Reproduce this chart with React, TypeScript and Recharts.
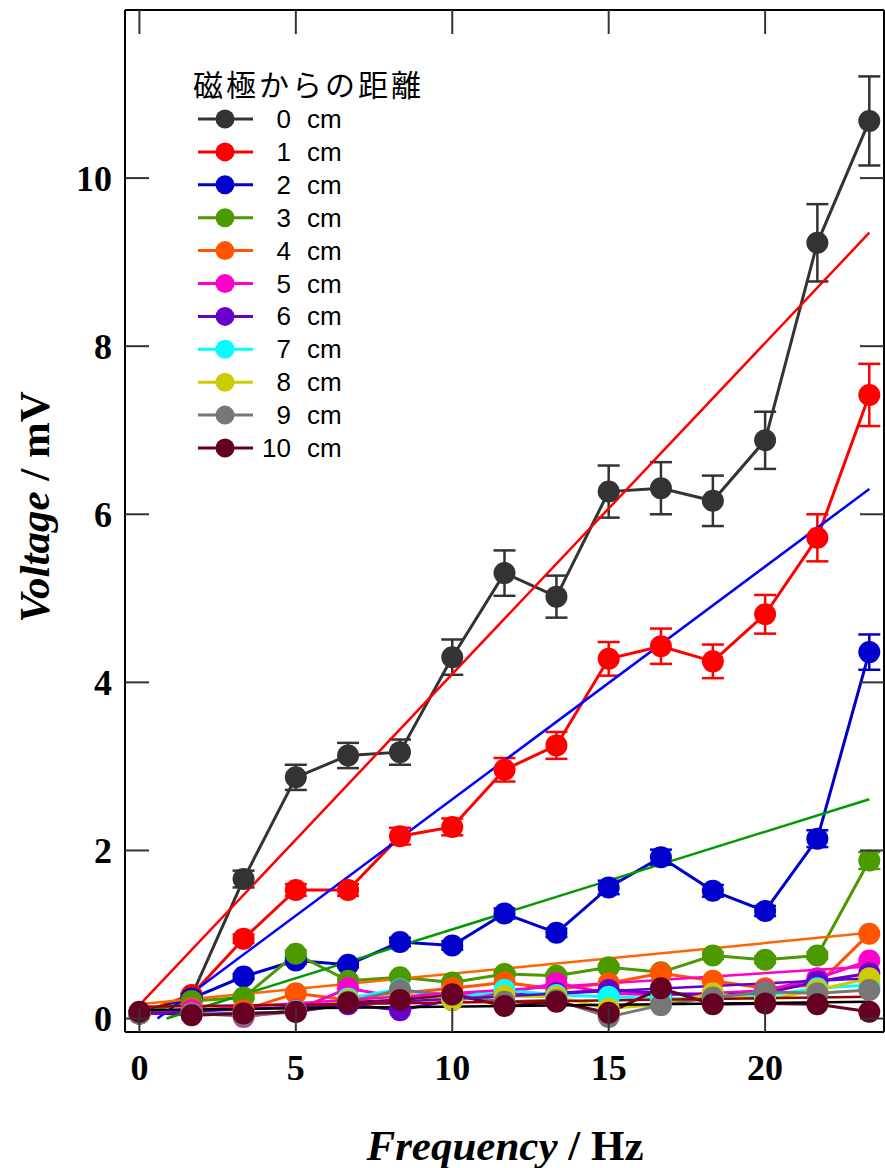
import React from 'react';
import { LineChart, Line, XAxis, YAxis, ErrorBar, Legend, Label } from 'recharts';

// ---- data ----
const freq = [0, 1.67, 3.33, 5, 6.67, 8.33, 10, 11.67, 13.33, 15, 16.67, 18.33, 20, 21.67, 23.33];

const seriesLabels = ['0', '1', '2', '3', '4', '5', '6', '7', '8', '9', '10'];
const seriesColors = ['#333333', '#ff0000', '#0000cc', '#4c9900', '#ff5500', '#ff00cc', '#6600cc', '#00ffff', '#cccc00', '#777777', '#660022'];

const v0cm = [0.06, 0.27, 1.66, 2.87, 3.13, 3.17, 4.30, 5.30, 5.02, 6.27, 6.31, 6.16, 6.88, 9.23, 10.68];
const v1cm = [0.06, 0.28, 0.95, 1.53, 1.53, 2.17, 2.28, 2.96, 3.25, 4.28, 4.43, 4.25, 4.81, 5.72, 7.42];
const v2cm = [0.06, 0.24, 0.50, 0.69, 0.64, 0.91, 0.87, 1.25, 1.02, 1.56, 1.92, 1.52, 1.28, 2.14, 4.36];
const v3cm = [0.06, 0.21, 0.25, 0.77, 0.45, 0.49, 0.43, 0.53, 0.51, 0.61, 0.55, 0.75, 0.70, 0.75, 1.88];
const v4cm = [0.06, 0.12, 0.10, 0.30, 0.22, 0.30, 0.36, 0.43, 0.35, 0.42, 0.54, 0.45, 0.36, 0.40, 1.01];
const v5cm = [0.06, 0.10, 0.02, 0.10, 0.36, 0.25, 0.28, 0.30, 0.42, 0.30, 0.28, 0.30, 0.33, 0.48, 0.69];
const v6cm = [0.06, 0.06, 0.06, 0.08, 0.17, 0.10, 0.22, 0.28, 0.30, 0.34, 0.30, 0.28, 0.30, 0.44, 0.54];
const v7cm = [0.06, 0.06, 0.05, 0.09, 0.24, 0.35, 0.24, 0.34, 0.28, 0.26, 0.24, 0.24, 0.27, 0.36, 0.40];
const v8cm = [0.06, 0.06, 0.04, 0.08, 0.22, 0.28, 0.22, 0.27, 0.26, 0.12, 0.17, 0.30, 0.22, 0.34, 0.48];
const v9cm = [0.06, 0.06, 0.03, 0.08, 0.20, 0.34, 0.28, 0.20, 0.22, 0.02, 0.16, 0.25, 0.32, 0.30, 0.34];
const v10cm = [0.08, 0.04, 0.06, 0.08, 0.19, 0.22, 0.29, 0.15, 0.20, 0.07, 0.36, 0.17, 0.18, 0.17, 0.08];

const err0cm = [0.02, 0.03, 0.10, 0.15, 0.15, 0.15, 0.21, 0.27, 0.25, 0.31, 0.31, 0.30, 0.34, 0.46, 0.53];
const err1cm = [0.01, 0.02, 0.05, 0.07, 0.07, 0.10, 0.10, 0.14, 0.16, 0.20, 0.21, 0.20, 0.23, 0.28, 0.37];
const err2cm = [0.01, 0.01, 0.03, 0.04, 0.03, 0.05, 0.05, 0.06, 0.05, 0.08, 0.09, 0.07, 0.06, 0.10, 0.21];
const err3cm = [0.01, 0.01, 0.02, 0.04, 0.02, 0.03, 0.02, 0.03, 0.03, 0.03, 0.03, 0.04, 0.04, 0.04, 0.10];

const seriesValues = [v0cm, v1cm, v2cm, v3cm, v4cm, v5cm, v6cm, v7cm, v8cm, v9cm, v10cm];
const seriesErrors = [err0cm, err1cm, err2cm, err3cm, null, null, null, null, null, null, null];

// straight fitted lines (start / end points)
const fitColors = ['#ff0000', '#0000ff', '#009900', '#ff6600', '#ff00cc', '#6600cc', '#990000', '#000000'];
const fitX = [[0, 23.33], [0.58, 23.33], [0.87, 23.33], [0, 23.33], [0, 23.33], [0, 23.33], [0, 23.33], [0, 23.33]];
const fitY = [[0.16, 9.35], [0, 6.3], [0, 2.61], [0.17, 1.02], [0.06, 0.62], [0.05, 0.48], [0.14, 0.26], [0.1, 0.2]];

const xTicks = [0, 5, 10, 15, 20];
const yTicks = [0, 2, 4, 6, 8, 10];
const legendTitle = '磁極からの距離';

// ---- styles ----
const SERIF = '"Liberation Serif", "Times New Roman", serif';
const JP = '"Noto Sans CJK JP", "Noto Sans", sans-serif';
const SANS = '"Liberation Sans", Arial, sans-serif';
const TICK_COLOR = '#333333';
const TICK_LEN = 24;

const W = 885;
const H = 1168;

const LeftTick = ({ x, y, payload }: any) => (
  <g>
    <line x1={x} x2={x + TICK_LEN} y1={y} y2={y} stroke={TICK_COLOR} strokeWidth={2} />
    <text x={x - 13} y={y} dy={12.5} textAnchor="end" fontFamily={SERIF} fontWeight="bold" fontSize={36} fill="#000">
      {payload.value}
    </text>
  </g>
);
const RightTick = ({ x, y }: any) => (
  <line x1={x - TICK_LEN} x2={x} y1={y} y2={y} stroke={TICK_COLOR} strokeWidth={2} />
);
const BottomTick = ({ x, y, payload }: any) => (
  <g>
    <line x1={x} x2={x} y1={y} y2={y - TICK_LEN} stroke={TICK_COLOR} strokeWidth={2} />
    <text x={x} y={y + 48} textAnchor="middle" fontFamily={SERIF} fontWeight="bold" fontSize={36} fill="#000">
      {payload.value}
    </text>
  </g>
);
const TopTick = ({ x, y }: any) => (
  <line x1={x} x2={x} y1={y} y2={y + TICK_LEN} stroke={TICK_COLOR} strokeWidth={2} />
);

const LegendBox = () => {
  const left = 180;
  const top = 60;
  return (
    <svg width={270} height={410} style={{ display: 'block', overflow: 'visible' }}>
      <text x={193 - left} y={83 - top} dominantBaseline="central" fontFamily={JP} fontSize={30} letterSpacing={3} fill="#000">
        {legendTitle}
      </text>
      {seriesLabels.map((lab, i) => {
        const cy = 119 + 32.9 * i - top;
        return (
          <g key={lab}>
            <line x1={198 - left} x2={253 - left} y1={cy} y2={cy} stroke={seriesColors[i]} strokeWidth={3} />
            <circle cx={225 - left} cy={cy} r={9.5} fill={seriesColors[i]} />
            <text x={291 - left} y={cy} dy={9} textAnchor="end" fontFamily={SANS} fontSize={26} fill="#000">
              {lab}
            </text>
            <text x={307 - left} y={cy} dy={9} fontFamily={SANS} fontSize={26} fill="#000">
              cm
            </text>
          </g>
        );
      })}
    </svg>
  );
};

const XTitle = () => {
  const cx = 505;
  const y = 1160;
  return (
    <text x={cx} y={y} textAnchor="middle" fontFamily={SERIF} fontWeight="bold" fontSize={43} fill="#000">
      <tspan fontStyle="italic">Frequency</tspan>
      <tspan> / Hz</tspan>
    </text>
  );
};
const YTitle = () => {
  const cx = 34;
  const cy = 507;
  return (
    <text x={cx} y={cy} transform={`rotate(-90 ${cx} ${cy})`} textAnchor="middle" dominantBaseline="central" fontFamily={SERIF} fontWeight="bold" fontSize={43} fill="#000">
      <tspan fontStyle="italic">Voltage</tspan>
      <tspan> / mV</tspan>
    </text>
  );
};

export default function App() {
  const series = seriesValues.map((vals, s) =>
    freq.map((f, i) => ({ x: f, y: vals[i], e: seriesErrors[s] ? (seriesErrors[s] as number[])[i] : 0 }))
  );
  const fits = fitX.map((xs, k) => xs.map((xv, j) => ({ x: xv, y: fitY[k][j] })));
  return (
    <div style={{ position: 'absolute', left: 0, top: 0, width: W, height: H, background: '#fff' }}>
      <LineChart width={W} height={H} margin={{ top: 9, right: 0, bottom: 0, left: 0 }}>
        <XAxis
          xAxisId="b"
          dataKey="x"
          type="number"
          domain={[-0.46, 23.8]}
          allowDataOverflow
          ticks={xTicks}
          orientation="bottom"
          height={136}
          tickSize={0}
          tickMargin={0}
          tickLine={false}
          tick={<BottomTick />}
          axisLine={{ stroke: '#000', strokeWidth: 2 }}
        >
          <Label content={<XTitle />} />
        </XAxis>
        <XAxis
          xAxisId="t"
          dataKey="x"
          type="number"
          domain={[-0.46, 23.8]}
          allowDataOverflow
          ticks={xTicks}
          orientation="top"
          height={1}
          tickSize={0}
          tickMargin={0}
          tickLine={false}
          tick={<TopTick />}
          axisLine={{ stroke: '#000', strokeWidth: 2 }}
        />
        <YAxis
          yAxisId="l"
          type="number"
          domain={[-0.16, 12]}
          allowDataOverflow
          ticks={yTicks}
          orientation="left"
          width={125}
          tickSize={0}
          tickMargin={0}
          tickLine={false}
          tick={<LeftTick />}
          axisLine={{ stroke: '#000', strokeWidth: 2 }}
        >
          <Label content={<YTitle />} />
        </YAxis>
        <YAxis
          yAxisId="r"
          type="number"
          domain={[-0.16, 12]}
          allowDataOverflow
          ticks={yTicks}
          orientation="right"
          width={1}
          tickSize={0}
          tickMargin={0}
          tickLine={false}
          tick={<RightTick />}
          axisLine={{ stroke: '#000', strokeWidth: 2 }}
        />
        {series.map((d, s) => (
          <Line
            key={'s' + s}
            xAxisId="b"
            yAxisId="l"
            data={d}
            dataKey="y"
            type="linear"
            stroke={seriesColors[s]}
            strokeWidth={3}
            dot={{ r: 11, fill: seriesColors[s], stroke: 'none' }}
            activeDot={false}
            isAnimationActive={false}
            legendType="none"
          >
            {seriesErrors[s] ? (
              <ErrorBar dataKey="e" direction="y" width={11} stroke={seriesColors[s]} strokeWidth={2.5} />
            ) : null}
          </Line>
        ))}
        {fits.map((d, k) => (
          <Line
            key={'f' + k}
            xAxisId="b"
            yAxisId="l"
            data={d}
            dataKey="y"
            type="linear"
            stroke={fitColors[k]}
            strokeWidth={2.5}
            dot={false}
            activeDot={false}
            isAnimationActive={false}
            legendType="none"
          />
        ))}
        <Legend
          layout="vertical"
          align="center"
          verticalAlign="middle"
          content={<LegendBox />}
          wrapperStyle={{ left: 180, top: 60, width: 270, height: 410 }}
        />
      </LineChart>
    </div>
  );
}
